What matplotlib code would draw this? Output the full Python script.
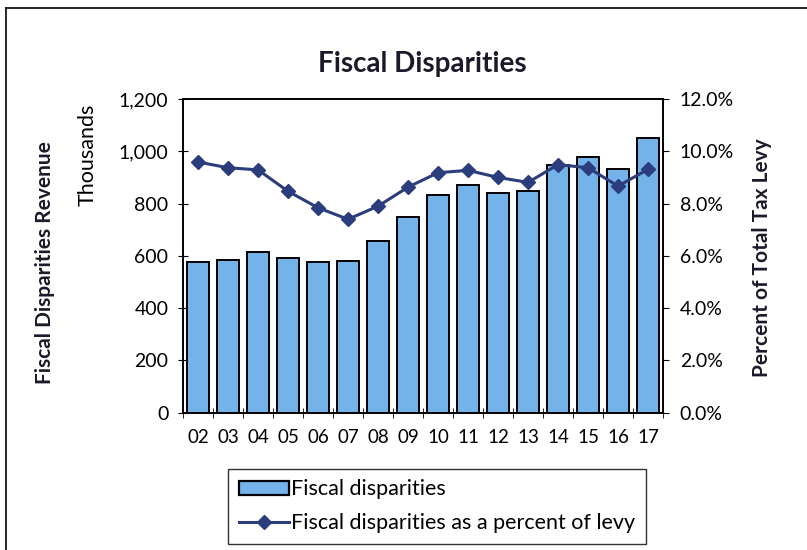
import numpy as np
import matplotlib.pyplot as plt
from matplotlib.lines import Line2D
from matplotlib.ticker import FuncFormatter

plt.rcParams['font.family'] = ['Lato', 'DejaVu Sans']

# data
years = ["02", "03", "04", "05", "06", "07", "08", "09",
         "10", "11", "12", "13", "14", "15", "16", "17"]
revenue = [575, 584, 615, 590, 577, 582, 656, 748,
           834, 872, 842, 849, 946, 978, 934, 1049]  # thousands
pct_levy = [9.59, 9.37, 9.29, 8.47, 7.84, 7.40, 7.90, 8.63,
            9.18, 9.27, 9.00, 8.81, 9.49, 9.37, 8.67, 9.31]  # percent

bar_color = "#74B3E9"
line_color = "#2B3D7C"
fs = 14

fig = plt.figure(figsize=(8.07, 5.50), dpi=100)
ax = fig.add_axes([0.2268, 0.2496, 0.5948, 0.5704])
ax2 = ax.twinx()

x = np.arange(len(years))
ax.bar(x, revenue, width=0.73, color=bar_color, edgecolor="black", linewidth=1.4, zorder=2)
ax.set_xlim(-0.5, len(years) - 0.5)
ax.set_ylim(0, 1200)
ax.set_yticks(np.arange(0, 1201, 200))
ax.yaxis.set_major_formatter(FuncFormatter(lambda v, p: f"{int(v):,}"))
ax.set_xticks(x)
ax.set_xticklabels(years)
ax.tick_params(axis="x", length=0, labelsize=13.5, pad=12)
ax.tick_params(axis="y", direction="inout", length=7, labelsize=fs, pad=7)
# category separators on the x axis
ax.set_xticks(np.arange(-0.5, len(years), 1), minor=True)
ax.tick_params(axis="x", which="minor", direction="inout", length=7)

ax2.plot(x, pct_levy, color=line_color, linewidth=2.2, marker="D", markersize=7,
         zorder=3)
ax2.set_ylim(0, 12)
ax2.set_yticks(np.arange(0, 12.1, 2))
ax2.yaxis.set_major_formatter(FuncFormatter(lambda v, p: f"{v:.1f}%"))
ax2.tick_params(axis="y", direction="out", length=4, labelsize=fs, pad=8)

for a in (ax, ax2):
    for s in a.spines.values():
        s.set_linewidth(1.2)

fig.text(0.523, 0.884, "Fiscal Disparities", ha="center", va="center",
         fontsize=20, fontweight="bold", color="#1a1a2a")
fig.text(0.108, 0.718, "Thousands", rotation=90, ha="center", va="center", fontsize=15.5)
fig.text(0.056, 0.523, "Fiscal Disparities Revenue", rotation=90, ha="center",
         va="center", fontsize=15, fontweight="bold", color="#1a1a2a")
fig.text(0.944, 0.532, "Percent of Total Tax Levy", rotation=90, ha="center",
         va="center", fontsize=15, fontweight="bold", color="#1a1a2a")

handles = [
    plt.Rectangle((0, 0), 1, 1, facecolor=bar_color, edgecolor="black", linewidth=1.6),
    Line2D([0], [0], color=line_color, linewidth=2.2, marker="D", markersize=7),
]
labels = ["Fiscal disparities", "Fiscal disparities as a percent of levy"]
leg = fig.legend(handles, labels, loc="upper left", bbox_to_anchor=(0.283, 0.148),
                 fontsize=15.5, frameon=True, fancybox=False, edgecolor="black",
                 handlelength=2.3, handleheight=0.6, handletextpad=0.1,
                 borderpad=0.5, labelspacing=0.65, borderaxespad=0)
leg.get_frame().set_linewidth(1.0)

# outer chart border (runs off the right and bottom edges)
fig.add_artist(Line2D([0.007, 0.007], [0.0, 0.986], color="black", linewidth=1.2,
                      transform=fig.transFigure))
fig.add_artist(Line2D([0.007, 1.0], [0.986, 0.986], color="black", linewidth=1.2,
                      transform=fig.transFigure))

fig.savefig("out.png", dpi=100)
